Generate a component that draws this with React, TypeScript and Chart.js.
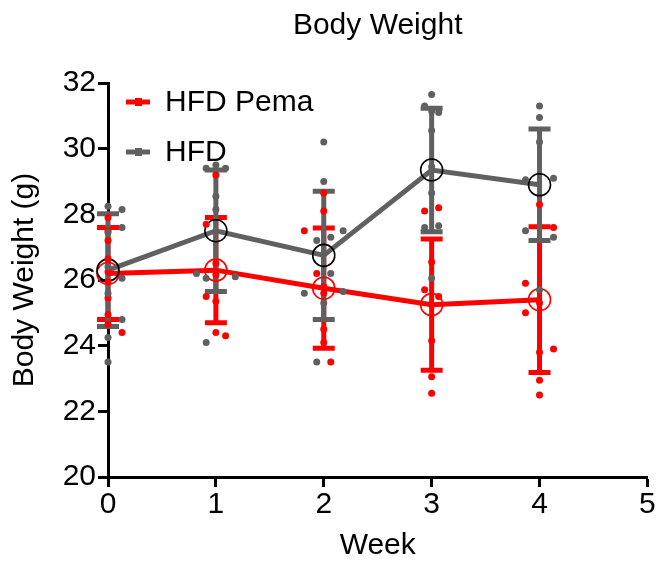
import { useEffect, useRef } from 'react';
import { Chart, registerables } from 'chart.js';

Chart.register(...registerables);

// ---- data ----
const weeks = [0, 1, 2, 3, 4];
const xMin = 0;
const xMax = 5;
const yMin = 20;
const yMax = 32;
const yStep = 2;

const seriesNames = ['HFD Pema', 'HFD'];

const pemaMean = [26.2, 26.3, 25.75, 25.25, 25.4];
const pemaSD = [1.4, 1.6, 1.83, 2.0, 2.22];
const hfdMean = [26.3, 27.5, 26.75, 29.35, 28.9];
const hfdSD = [1.72, 1.85, 1.95, 1.88, 1.7];

// individual animals: [week, horizontal jitter (weeks), body weight (g)]
const pemaPoints: [number, number, number][] = [
  [0, 0, 27.9], [0, 0, 27.5], [0, 0, 27.2], [0, 0, 26.65], [0, 0, 26.25],
  [0, 0, 25.95], [0, 0, 25.45], [0, 0, 24.95], [0, 0, 24.65], [0, 0.13, 24.4],
  [1, 0, 29.2], [1, -0.09, 27.7], [1, 0, 26.5], [1, 0, 26.15], [1, -0.09, 25.5],
  [1, 0, 25.35], [1, 0, 24.4], [1, 0.09, 24.3],
  [2, 0, 28.65], [2, 0, 28.1], [2, -0.18, 27.5], [2, -0.065, 26.2], [2, 0, 25.8],
  [2, 0, 25.6], [2, 0, 24.5], [2, 0, 24.1], [2, 0.065, 23.5],
  [3, -0.065, 28.1], [3, 0.065, 28.2], [3, 0, 26.55], [3, -0.065, 25.7], [3, 0.065, 25.5],
  [3, 0, 25.25], [3, 0, 24.15], [3, 0, 23.05], [3, 0, 22.55],
  [4, 0, 28.3], [4, 0.13, 27.6], [4, -0.13, 25.9], [4, -0.13, 25.0], [4, 0, 25.3],
  [4, 0.13, 23.9], [4, 0, 23.8], [4, 0, 22.95], [4, 0, 22.5],
];

const hfdPoints: [number, number, number][] = [
  [0, 0, 28.25], [0, 0.13, 28.15], [0, 0.13, 27.6], [0, 0, 27.45], [0, 0, 26.4],
  [0, 0.13, 26.05], [0, 0, 25.6], [0, 0.13, 24.8], [0, 0, 24.25], [0, 0, 23.5],
  [1, -0.09, 29.4], [1, 0, 29.5], [1, 0.09, 29.4], [1, 0, 28.55], [1, 0, 28.15],
  [1, -0.18, 26.2], [1, 0.18, 26.1], [1, -0.09, 26.05], [1, -0.09, 24.1],
  [2, 0, 30.2], [2, 0, 29.0], [2, 0.18, 27.5], [2, 0.065, 27.3], [2, -0.065, 27.2],
  [2, 0.065, 26.2], [2, -0.18, 25.6], [2, 0.18, 25.65], [2, 0, 25.3], [2, -0.065, 23.5],
  [3, 0, 31.65], [3, -0.065, 31.3], [3, 0, 31.15], [3, 0.065, 31.1], [3, 0, 30.55],
  [3, 0, 29.45], [3, 0, 28.65], [3, -0.065, 27.6], [3, 0.065, 27.65], [3, 0, 26.05],
  [4, 0, 31.3], [4, 0, 30.95], [4, 0, 30.2], [4, -0.13, 29.05], [4, 0.13, 29.1],
  [4, -0.13, 27.5], [4, 0.13, 27.3], [4, 0, 25.7],
];

// ---- styles ----
const RED = '#ff0000';
const GRAY = '#606060';
const FONT = '"Liberation Sans", Arial, Helvetica, sans-serif';

const groups = [
  { name: seriesNames[0], mean: pemaMean, sd: pemaSD, pts: pemaPoints, color: RED, ring: RED },
  { name: seriesNames[1], mean: hfdMean, sd: hfdSD, pts: hfdPoints, color: GRAY, ring: '#000000' },
];

const errorBarPlugin = {
  id: 'errorBars',
  beforeDatasetsDraw(chart: any) {
    const { ctx, scales } = chart;
    const x = scales.x;
    const y = scales.y;
    ctx.save();
    groups.forEach((g) => {
      ctx.strokeStyle = g.color;
      ctx.lineWidth = 5;
      ctx.lineCap = 'butt';
      weeks.forEach((w, i) => {
        const px = x.getPixelForValue(w);
        const top = y.getPixelForValue(g.mean[i] + g.sd[i]);
        const bot = y.getPixelForValue(g.mean[i] - g.sd[i]);
        ctx.beginPath();
        ctx.moveTo(px, top);
        ctx.lineTo(px, bot);
        ctx.moveTo(px - 11, top);
        ctx.lineTo(px + 11, top);
        ctx.moveTo(px - 11, bot);
        ctx.lineTo(px + 11, bot);
        ctx.stroke();
      });
    });
    ctx.restore();
  },
};

const decorPlugin = {
  id: 'decor',
  afterDraw(chart: any) {
    const { ctx, chartArea } = chart;
    ctx.save();
    // title
    ctx.fillStyle = '#000';
    ctx.font = `30px ${FONT}`;
    ctx.textAlign = 'center';
    ctx.textBaseline = 'middle';
    ctx.fillText('Body Weight', (chartArea.left + chartArea.right) / 2, 26);
    // legend
    ctx.textAlign = 'left';
    groups.forEach((g, i) => {
      const yy = chartArea.top + 19 + i * 50;
      const x0 = chartArea.left + 18;
      ctx.strokeStyle = g.color;
      ctx.lineWidth = 5;
      ctx.beginPath();
      ctx.moveTo(x0, yy);
      ctx.lineTo(x0 + 24, yy);
      ctx.stroke();
      ctx.fillStyle = g.color;
      ctx.fillRect(x0 + 9, yy - 4, 7, 8);
      ctx.fillStyle = '#000';
      ctx.fillText(g.name, x0 + 39, yy + 1);
    });
    ctx.restore();
  },
};

export default function App() {
  const ref = useRef<HTMLCanvasElement | null>(null);

  useEffect(() => {
    if (!ref.current) return;
    Chart.defaults.font.family = FONT;
    const datasets: any[] = [];
    // dots (top)
    [...groups].reverse().forEach((g, k) => {
      datasets.push({
        type: 'scatter',
        label: g.name + ' points',
        data: g.pts.map((p) => ({ x: p[0] + p[1], y: p[2] })),
        backgroundColor: g.color,
        borderWidth: 0,
        pointRadius: 3.5,
        pointHoverRadius: 3.5,
        showLine: false,
        order: k,
        clip: false,
      });
    });
    // mean lines
    [...groups].reverse().forEach((g, k) => {
      datasets.push({
        type: 'line',
        label: g.name,
        data: weeks.map((w, i) => ({ x: w, y: g.mean[i] })),
        borderColor: g.color,
        borderWidth: 5,
        pointRadius: 11,
        pointHoverRadius: 11,
        pointBorderColor: g.ring,
        pointBorderWidth: 1.6,
        pointBackgroundColor: 'rgba(0,0,0,0)',
        fill: false,
        tension: 0,
        order: 2 + k,
        clip: false,
      });
    });

    const chart = new Chart(ref.current, {
      type: 'scatter',
      data: { datasets },
      plugins: [errorBarPlugin, decorPlugin],
      options: {
        animation: false,
        responsive: false,
        devicePixelRatio: 1,
        layout: { padding: { top: 83, right: 6, left: 0, bottom: 0 } },
        plugins: {
          legend: { display: false },
          title: { display: false },
          tooltip: { enabled: false },
        },
        scales: {
          x: {
            type: 'linear',
            min: xMin,
            max: xMax,
            afterFit: (s: any) => {
              s.height = 85;
              s.paddingRight = 0;
            },
            ticks: {
              stepSize: 1,
              color: '#000',
              font: { size: 30, lineHeight: 1 },
              padding: 3,
            },
            grid: {
              display: true,
              drawOnChartArea: false,
              drawTicks: true,
              tickLength: 10,
              tickColor: '#000',
              tickWidth: 3,
            },
            border: { display: true, color: '#000', width: 3 },
            title: {
              display: true,
              text: 'Week',
              color: '#000',
              font: { size: 30, lineHeight: 1 },
              padding: { top: 0, bottom: 1 },
            },
          },
          y: {
            type: 'linear',
            min: yMin,
            max: yMax,
            afterFit: (s: any) => {
              s.width = 108;
            },
            ticks: {
              stepSize: yStep,
              color: '#000',
              font: { size: 30, lineHeight: 1 },
              padding: 2,
            },
            grid: {
              display: true,
              drawOnChartArea: false,
              drawTicks: true,
              tickLength: 10,
              tickColor: '#000',
              tickWidth: 3,
            },
            border: { display: true, color: '#000', width: 3 },
            title: {
              display: true,
              text: 'Body Weight (g)',
              color: '#000',
              font: { size: 30, lineHeight: 1 },
              padding: { top: 10, bottom: 0 },
            },
          },
        },
      } as any,
    });
    return () => chart.destroy();
  }, []);

  return (
    <div style={{ position: 'absolute', left: 0, top: 0, width: 660, height: 562 }}>
      <canvas ref={ref} width={660} height={562} />
    </div>
  );
}
